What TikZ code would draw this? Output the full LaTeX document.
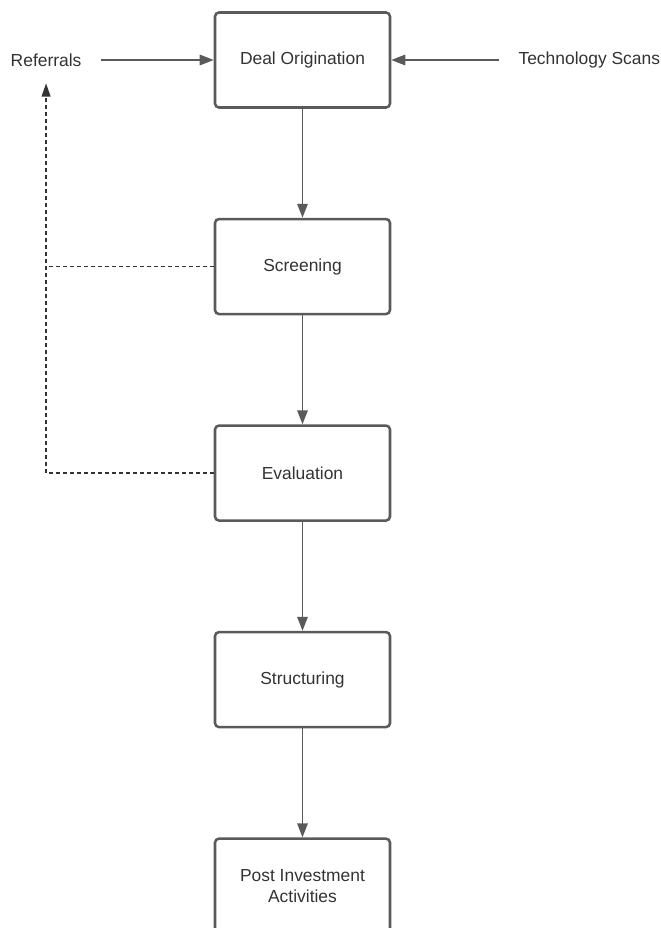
\documentclass[tikz,border=0pt]{standalone}
\usepackage{fontspec}
\setmainfont{Liberation Sans}
\usetikzlibrary{positioning,arrows.meta}
\definecolor{linegray}{HTML}{5A5A5A}
\definecolor{textgray}{HTML}{333333}
\tikzset{
 b/.style
  = {rectangle, draw=linegray, line width=1.8pt, rounded corners=0.1cm,
     minimum width=4.375cm, minimum height=2.375cm, align=center,
     font=\fontsize{12.4}{15}\selectfont, text=textgray},
 lbl/.style
  = {inner xsep=0.475cm, font=\fontsize{12.4}{15}\selectfont, text=textgray},
 l/.style
  = {draw=linegray, line width=1.4pt, -{Triangle[length=0.35cm,width=0.26cm]}},
 dl/.style
  = {draw=textgray, line width=1pt, dash pattern=on 0.1cm off 0.075cm},
}
\begin{document}
\begin{tikzpicture}[auto]
    \useasboundingbox (0,0) rectangle (16.5,-23.2);
    \node [b] (deal) at (7.5625,-1.5) {Deal Origination};
    \node [b, below = 2.725cm of deal] (screening) {Screening};
    \node [b, below = 2.725cm of screening] (evaluation) {Evaluation};
    \node [b, below = 2.725cm of evaluation] (structuring) {Structuring};
    \node [b, below = 2.725cm of structuring] (post) {Post Investment\\ Activities};
    \node [lbl, left = 2.825cm of deal] (referrals) {Referrals};
    \node [lbl, right = 2.7cm of deal] (scans) {Technology Scans};

    \path [l] (referrals) -- (deal);
    \path [l] (scans) -- (deal);
    \path [l] (deal) -- (screening);
    \path [l] (screening) -- (evaluation);
    \path [l] (evaluation) -- (structuring);
    \path [l] (structuring) -- (post);

    % feedback to referrals
    \path [dl, -{Triangle[length=0.33cm,width=0.22cm]}, shorten >=0.3cm]
      (evaluation) -| (referrals.south);
    \path [dl] (screening) -- (screening -| referrals.south);
  \end{tikzpicture}
\end{document}
